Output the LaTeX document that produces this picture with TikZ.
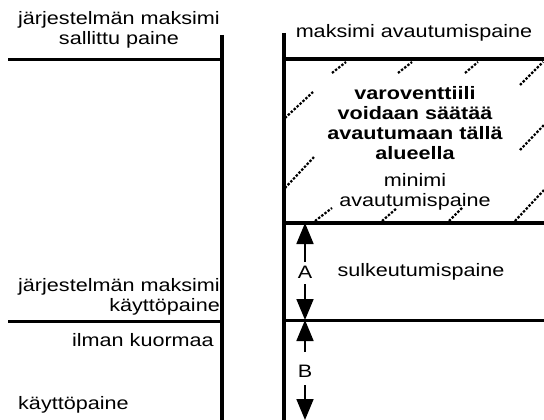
\documentclass[tikz,border=0pt]{standalone}
\usepackage{fontspec}
\setmainfont{Liberation Sans}[FakeStretch=1.2]
\usetikzlibrary{arrows.meta}
\begin{document}
\begin{tikzpicture}[x=1pt,y=-1pt,
  lbl/.style={inner sep=0pt,font=\fontsize{18}{20}\selectfont},
  thickline/.style={line width=4.5pt},
  thinline/.style={line width=3pt},
  hatch/.style={line width=2.2pt,dash pattern=on 2.4pt off 1.6pt},
  arr/.style={line width=1.8pt,-{Triangle[length=21pt,width=17pt]}}]
\useasboundingbox (0,0) rectangle (544,420);
% verticals
\draw[thickline] (222,35) -- (222,420);
\draw[thickline] (284,33) -- (284,420);
% left horizontals
\draw[thinline] (8,60) -- (222,60);
\draw[thinline] (8,321) -- (222,321);
% right horizontals
\draw[thickline] (284,59) -- (544,59);
\draw[thickline] (284,223) -- (544,223);
\draw[thinline] (284,320) -- (544,320);
% hatching
\draw[hatch] (332,73) -- (346,62);
\draw[hatch] (398,73) -- (412,62);
\draw[hatch] (465,73) -- (478,62);
\draw[hatch] (520,85) -- (543,62);
\draw[hatch] (285,118) -- (313,92);
\draw[hatch] (520,150) -- (544,125);
\draw[hatch] (285,188) -- (314,157);
\draw[hatch] (515,221) -- (544,190);
\draw[hatch] (315,221) -- (332,208);
\draw[hatch] (382,221) -- (397,208);
\draw[hatch] (449,221) -- (462,208);
% texts
\node[lbl,align=center] (t1) at (119,30) {järjestelmän maksimi\\sallittu paine};
\node[lbl] (t2) at (414,33) {maksimi avautumispaine};
\node[lbl,align=center,font=\fontsize{18}{20}\selectfont\bfseries] (t3) at (415,123) {varoventtiili\\voidaan säätää\\avautumaan tällä\\alueella};
\node[lbl,align=center] (t4) at (415,192) {minimi\\avautumispaine};
\node[lbl] (t5) at (421,272) {sulkeutumispaine};
\node[lbl] (A) at (305,272) {A};
\node[lbl] (B) at (305,371) {B};
\node[lbl,align=right,anchor=east] (t6) at (220,297) {järjestelmän maksimi\\käyttöpaine};
\node[lbl,anchor=east] (t7) at (214,340) {ilman kuormaa};
\node[lbl,anchor=west] (t8) at (18,405) {käyttöpaine};
% arrows
\coordinate (a1) at (305,223);
\coordinate (a2) at (305,320);
\coordinate (a3) at (305,420);
\draw[arr] (305,262) -- (a1);
\draw[arr] (305,284) -- (a2);
\draw[arr] (305,352) -- (a2);
\draw[arr] (305,385) -- (a3);
\end{tikzpicture}
\end{document}
